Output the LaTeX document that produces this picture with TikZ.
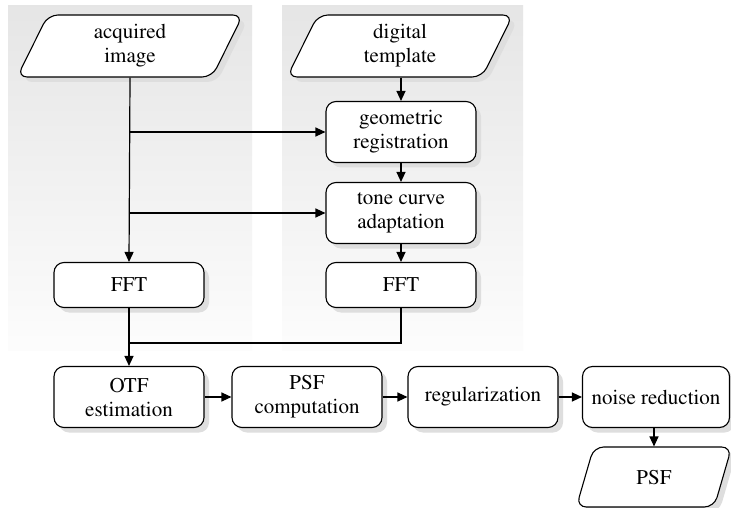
\documentclass[tikz,border=0pt]{standalone}
\usepackage[T1]{fontenc}
\usepackage{mathptmx}
\usetikzlibrary{shapes.geometric,arrows.meta,shadows}
\begin{document}
\begin{tikzpicture}[x=1pt,y=-1pt,
  font=\rmfamily\fontsize{21}{24}\selectfont,
  shad/.style={drop shadow={shadow xshift=5pt,shadow yshift=-5pt,fill=black!13,opacity=1}},
  procbox/.style={draw=black,line width=1.1pt,fill=white,rounded corners=10pt,
     minimum width=150pt,minimum height=61pt,align=center,inner sep=2pt,shad},
  shortbox/.style={procbox,minimum height=45pt},
  iobox/.style={draw=black,line width=1.1pt,fill=white,trapezium,trapezium left angle=73,
     trapezium right angle=107,trapezium stretches=true,rounded corners=10pt,
     minimum width=226pt,minimum height=62pt,align=center,inner sep=2pt,shad},
  arr/.style={line width=1.2pt,-{Triangle[length=10pt,width=9pt]}},
  ln/.style={line width=1.2pt},
  panel/.style={top color=black!10,bottom color=black!1,draw=none}]
\useasboundingbox (0,0) rectangle (731,508);
\fill[white] (0,0) rectangle (731,508);
\shade[panel] (8,6) rectangle (252,350);
\shade[panel] (282,6) rectangle (523,350);

\node[iobox] (acq) at (130,46) {acquired\\image};
\node[iobox] (dig) at (400,46) {digital\\template};
\node[procbox] (geo) at (401,132) {geometric\\registration};
\node[procbox] (tone) at (401,213) {tone curve\\adaptation};
\node[shortbox] (fft1) at (129,285) {FFT};
\node[shortbox] (fft2) at (401,285) {FFT};
\node[procbox] (otf) at (129,397) {OTF\\estimation};
\node[procbox] (psf) at (307,397) {PSF\\computation};
\node[procbox] (reg) at (483,397) {regularization};
\node[procbox,minimum width=147pt] (noise) at (656,397) {noise reduction};
\node[iobox,minimum width=156pt,minimum height=60pt] (out) at (654,477) {PSF};

\coordinate (j) at (129,343);

\draw[arr] (acq.south) -- (fft1.north);
\draw[arr] (acq.south |- geo.west) -- (geo.west);
\draw[arr] (acq.south |- tone.west) -- (tone.west);
\draw[arr] (dig.south -| geo.north) -- (geo.north);
\draw[arr] (geo) -- (tone);
\draw[arr] (tone) -- (fft2);
\draw[arr] (fft1) -- (otf);
\draw[ln] (fft2.south) |- (j);
\draw[arr] (otf) -- (psf);
\draw[arr] (psf) -- (reg);
\draw[arr] (reg) -- (noise);
\draw[arr] (noise.south -| out.north) -- (out.north);
\end{tikzpicture}
\end{document}
